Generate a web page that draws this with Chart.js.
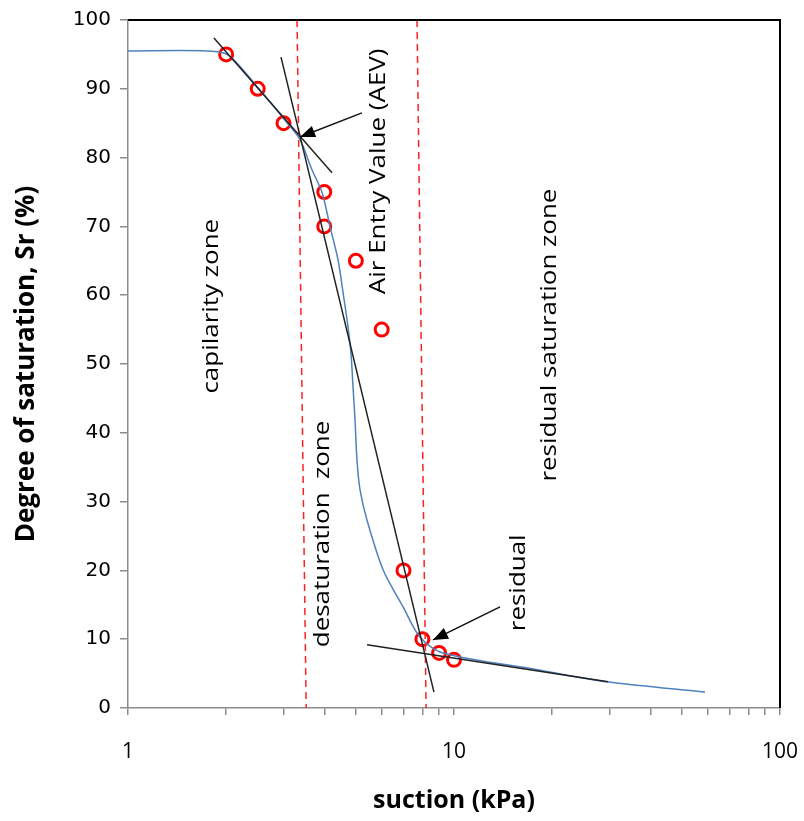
<!DOCTYPE html>
<html>
<head>
<meta charset="utf-8">
<script src="https://cdn.jsdelivr.net/npm/chart.js@4.4.1/dist/chart.umd.min.js"></script>
<style>
  html, body { margin: 0; padding: 0; background: #fff; }
</style>
</head>
<body>
<canvas id="swcc" width="804" height="821"></canvas>
<script>
// measured points (suction kPa, degree of saturation %)
const suction = [2, 2.5, 3, 4, 4, 5, 6, 7, 8, 9, 10];
const saturation = [95, 90, 85, 75, 70, 65, 55, 20, 10, 8, 7];

// fitted curve
const fitSuction = [1, 1.75, 2.03, 2.52, 3.07, 3.37, 3.67, 3.94, 4.17, 4.41, 4.57, 4.73, 4.83, 4.90, 4.97, 5.04, 5.15, 5.41, 6.06, 6.98, 7.87, 9.25, 18.4, 29.5, 58.9];
const fitSaturation = [95.5, 95.5, 94.9, 90.0, 85.1, 82.6, 78.2, 74.9, 69.9, 65.1, 60.3, 55.4, 51.6, 46.7, 41.9, 36.0, 31.7, 27.3, 20.1, 14.7, 10.3, 8.0, 5.5, 3.8, 2.3];

// construction lines
const aevTangentX = [1.835, 4.225];
const aevTangentY = [97.4, 77.8];
const slopeLineX = [2.947, 8.68];
const slopeLineY = [94.6, 2.3];
const resTangentX = [5.41, 29.7];
const resTangentY = [9.2, 3.8];

// zone boundaries (dashed)
const zoneAX = [3.30, 3.52];
const zoneBX = [7.70, 8.21];
const zoneY = [100, 0];

// arrows: tail -> tip
const aevArrowX = [5.22, 3.37];
const aevArrowY = [86.5, 83.0];
const resArrowX = [13.84, 8.62];
const resArrowY = [14.7, 9.9];

// labels
const zoneText = ['capilarity zone', 'Air Entry Value (AEV)', 'desaturation  zone', 'residual saturation zone', 'residual'];
const zoneTextX = [1.81, 5.89, 3.96, 19.7, 15.8];
const zoneTextY = [58.4, 78.0, 25.3, 54.2, 18.2];

const xTicks = [1, 2, 3, 4, 5, 6, 7, 8, 9, 10, 20, 30, 40, 50, 60, 70, 80, 90, 100];
const xLabelled = [1, 10, 100];

function pts(xs, ys) {
    return xs.map((x, i) => ({ x: x, y: ys[i] }));
}

const axisGrey = '#8c8c8c';
const labelFont = '"Open Sans", "Liberation Sans", sans-serif';

function line(data, color, order, dash) {
    return {
        type: 'line',
        data: data,
        borderColor: color,
        borderWidth: 1.5,
        borderDash: dash || [],
        pointRadius: 0,
        fill: false,
        tension: 0,
        order: order
    };
}

const annotatePlugin = {
    id: 'annotate',
    afterDatasetsDraw(chart) {
        const ctx = chart.ctx;
        const xs = chart.scales.x;
        const ys = chart.scales.y;

        // arrow heads
        [[aevArrowX, aevArrowY], [resArrowX, resArrowY]].forEach(([ax, ay]) => {
            const x0 = xs.getPixelForValue(ax[0]), y0 = ys.getPixelForValue(ay[0]);
            const x1 = xs.getPixelForValue(ax[1]), y1 = ys.getPixelForValue(ay[1]);
            const ang = Math.atan2(y1 - y0, x1 - x0);
            const len = 15, half = 6;
            ctx.save();
            ctx.translate(x1, y1);
            ctx.rotate(ang);
            ctx.fillStyle = '#000';
            ctx.beginPath();
            ctx.moveTo(0, 0);
            ctx.lineTo(-len, -half);
            ctx.lineTo(-len, half);
            ctx.closePath();
            ctx.fill();
            ctx.restore();
        });

        // rotated zone labels (the original text is a bit stretched)
        ctx.save();
        ctx.font = '22px ' + labelFont;
        ctx.fillStyle = '#000';
        ctx.textAlign = 'center';
        ctx.textBaseline = 'middle';
        zoneText.forEach((t, i) => {
            ctx.save();
            ctx.translate(xs.getPixelForValue(zoneTextX[i]), ys.getPixelForValue(zoneTextY[i]));
            ctx.rotate(-Math.PI / 2);
            ctx.scale(1.18, 1);
            ctx.fillText(t, 0, 0);
            ctx.restore();
        });
        ctx.restore();

        // black frame on top and right
        const a = chart.chartArea;
        ctx.save();
        ctx.strokeStyle = '#000';
        ctx.lineWidth = 2;
        ctx.beginPath();
        ctx.moveTo(a.left, a.top);
        ctx.lineTo(a.right, a.top);
        ctx.lineTo(a.right, a.bottom);
        ctx.stroke();
        ctx.restore();
    }
};

new Chart(document.getElementById('swcc'), {
    type: 'scatter',
    data: {
        datasets: [
            {
                label: 'measured',
                data: pts(suction, saturation),
                pointStyle: 'circle',
                pointRadius: 6.5,
                pointBorderWidth: 3,
                pointBorderColor: '#ff0000',
                pointBackgroundColor: 'rgba(0,0,0,0)',
                showLine: false,
                order: 5
            },
            line(pts(aevTangentX, aevTangentY), '#222', 2),
            line(pts(slopeLineX, slopeLineY), '#222', 2),
            line(pts(resTangentX, resTangentY), '#222', 2),
            line(pts(aevArrowX, aevArrowY), '#111', 1),
            line(pts(resArrowX, resArrowY), '#111', 1),
            Object.assign(line(pts(fitSuction, fitSaturation), '#4f81bd', 3), { tension: 0.3 }),
            line(pts(zoneAX, zoneY), '#ff2020', 4, [7, 5]),
            line(pts(zoneBX, zoneY), '#ff2020', 4, [7, 5])
        ]
    },
    options: {
        responsive: false,
        animation: false,
        layout: { padding: { left: 0, right: 24, top: 20, bottom: 0 } },
        plugins: {
            legend: { display: false },
            tooltip: { enabled: false }
        },
        scales: {
            x: {
                type: 'logarithmic',
                min: 1,
                max: 100,
                afterBuildTicks: (scale) => {
                    scale.ticks = xTicks.map(v => ({ value: v }));
                },
                afterFit: (scale) => {
                    scale.height = 113;
                    scale.paddingLeft = 0;
                    scale.paddingRight = 0;
                },
                ticks: {
                    autoSkip: false,
                    maxRotation: 0,
                    padding: 24,
                    color: '#000',
                    font: { family: labelFont, size: 21 },
                    callback: (v) => xLabelled.includes(v) ? String(v) : ''
                },
                grid: { drawOnChartArea: false, tickLength: 7, color: axisGrey, lineWidth: 1.5 },
                border: { color: axisGrey, width: 1.5 },
                title: {
                    display: true,
                    text: 'suction (kPa)',
                    color: '#000',
                    font: { family: labelFont, size: 25, weight: 'bold' },
                    padding: { top: 0, bottom: 5 }
                }
            },
            y: {
                min: 0,
                max: 100,
                afterFit: (scale) => {
                    scale.width = 128;
                    scale.paddingTop = 0;
                    scale.paddingBottom = 0;
                },
                ticks: {
                    stepSize: 10,
                    padding: 9,
                    color: '#000',
                    font: { family: '"DejaVu Sans", sans-serif', size: 20 }
                },
                grid: { drawOnChartArea: false, tickLength: 8, color: axisGrey, lineWidth: 1.5 },
                border: { color: axisGrey, width: 1.5 },
                title: {
                    display: true,
                    text: 'Degree of saturation, Sr (%)',
                    color: '#000',
                    font: { family: labelFont, size: 26, weight: 'bold' },
                    padding: { top: 11, bottom: 0 }
                }
            }
        }
    },
    plugins: [annotatePlugin]
});
</script>
</body>
</html>
